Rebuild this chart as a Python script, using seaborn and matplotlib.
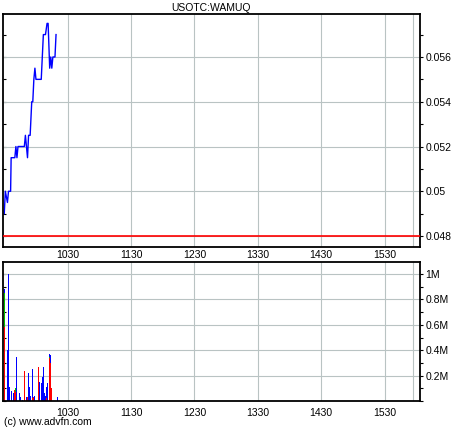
import pandas as pd
import matplotlib
matplotlib.use('Agg')
import matplotlib.pyplot as plt
from matplotlib.ticker import MultipleLocator, FuncFormatter
import seaborn as sns

# Price trace (minutes after 09:30, price in USD)
price_min = [0, 1, 3, 4, 6, 6.5, 10, 11, 12, 13, 19, 20, 21, 22, 23, 24.5, 26, 27, 28, 29,
             30, 35, 37, 39, 40.5, 41.5, 43, 44, 45, 46, 48, 49]
price = [0.049, 0.05, 0.0495, 0.05, 0.05, 0.0515, 0.0515, 0.052, 0.0515, 0.052,
         0.052, 0.0525, 0.052, 0.0515, 0.0525, 0.0525, 0.054, 0.054, 0.055, 0.0555,
         0.055, 0.055, 0.057, 0.057, 0.0575, 0.0575, 0.0555, 0.056, 0.0555, 0.056,
         0.056, 0.057]
prev_close = 0.048

# Volume per minute (millions of shares), split by trade direction
bar_min = [0, 3, 4, 5, 7, 9, 10, 11, 12, 14, 15, 17, 19, 21, 22, 23, 24, 25, 27, 28,
           29, 30, 31, 32, 33, 35, 36, 37, 38, 39, 40, 41, 43, 44, 45, 48, 50]
vol_red = [0.58, 0, 0, 0, 0, 0, 0.09, 0.07, 0, 0, 0, 0, 0.24, 0.01, 0.03, 0, 0, 0, 0.02, 0.03,
           0, 0.05, 0, 0.27, 0, 0, 0, 0, 0, 0, 0.02, 0, 0.34, 0.30, 0.10, 0, 0]
vol_green = [0.27, 0, 0, 0, 0, 0, 0, 0.03, 0, 0.01, 0, 0, 0, 0, 0, 0, 0, 0, 0, 0,
             0, 0, 0, 0, 0, 0, 0, 0, 0, 0, 0, 0, 0.01, 0, 0, 0, 0]
vol_blue = [0.03, 0.40, 1.0, 0.11, 0.08, 0.06, 0, 0, 0.345, 0.05, 0.03, 0.01, 0, 0.02, 0, 0.22, 0.11, 0.04, 0.23, 0,
            0.04, 0, 0.37, 0, 0.15, 0.14, 0.19, 0.27, 0.06, 0.04, 0.09, 0.14, 0.02, 0.06, 0, 0.03, 0.03]

tick_min = [60, 120, 180, 240, 300, 360, 387]
tick_lab = ['1030', '1130', '1230', '1330', '1430', '1530', '']

plt.rcParams['font.family'] = ['Liberation Sans', 'DejaVu Sans']
plt.rcParams['font.size'] = 7.5

price_df = pd.DataFrame({'minute': price_min, 'price': price})
vol_df = pd.DataFrame({'minute': bar_min, 'red': vol_red, 'green': vol_green, 'blue': vol_blue})
vol_df = vol_df.melt(id_vars='minute', var_name='kind', value_name='vol')

fig = plt.figure(figsize=(4.6, 4.3), dpi=100)
ax1 = fig.add_axes([3 / 460, 1 - 247 / 430, 417 / 460, 233 / 430])
ax2 = fig.add_axes([3 / 460, 1 - 401 / 430, 417 / 460, 139 / 430])

grid_kw = dict(color='#b9c3c3', linewidth=0.8)

# Price panel
sns.lineplot(data=price_df, x='minute', y='price', color='#0000ff', linewidth=1.0, ax=ax1)
ax1.axhline(prev_close, color='#ff0000', linewidth=1.2, zorder=3)
ax1.set_ylim(0.04751, 0.05792)
ax1.yaxis.set_major_locator(MultipleLocator(0.002))
ax1.yaxis.set_minor_locator(MultipleLocator(0.001))
ax1.yaxis.set_major_formatter(FuncFormatter(lambda v, p: f'{v:g}'))

# Volume panel
sns.histplot(data=vol_df, x='minute', weights='vol', hue='kind', hue_order=['blue', 'green', 'red'],
             palette={'red': '#ff0000', 'green': '#00c000', 'blue': '#0000ff'},
             multiple='stack', discrete=True, shrink=0.85, linewidth=0, alpha=1,
             legend=False, ax=ax2)
ax2.set_ylim(0, 1.095)
ax2.set_yticks([0.2, 0.4, 0.6, 0.8, 1.0])
ax2.yaxis.set_minor_locator(MultipleLocator(0.1))
ax2.yaxis.set_major_formatter(FuncFormatter(lambda v, p: f'{v:g}M'))

for ax in (ax1, ax2):
    ax.set_xlim(-1.2, 393.5)
    ax.set_xticks(tick_min)
    ax.set_xticklabels(tick_lab)
    ax.set_xlabel('')
    ax.set_ylabel('')
    ax.set_facecolor('white')
    ax.grid(True, which='major', **grid_kw)
    ax.set_axisbelow(True)
    ax.yaxis.tick_right()
    ax.tick_params(axis='x', length=0, pad=2.5)
    ax.tick_params(axis='y', which='both', direction='out', length=2.5, width=0.8,
                   pad=1.5, right=True, left=False)
    for sp in ax.spines.values():
        sp.set_linewidth(1.3)
        sp.set_color('black')
    sec = ax.secondary_yaxis('left')
    sec.set_yticks(ax.get_yticks(minor=False))
    sec.yaxis.set_minor_locator(ax.yaxis.get_minor_locator())
    sec.tick_params(which='both', direction='in', length=2, width=0.8, labelleft=False)
    sec.spines['left'].set_visible(False)

ax2.tick_params(axis='x', pad=5)

fig.text(211 / 460, 1 - 8 / 430, 'USOTC:WAMUQ', ha='center', va='center')
fig.text(4 / 460, 1 - 422 / 430, '(c) www.advfn.com', ha='left', va='center')

fig.savefig('out.png', dpi=100, facecolor='white')
